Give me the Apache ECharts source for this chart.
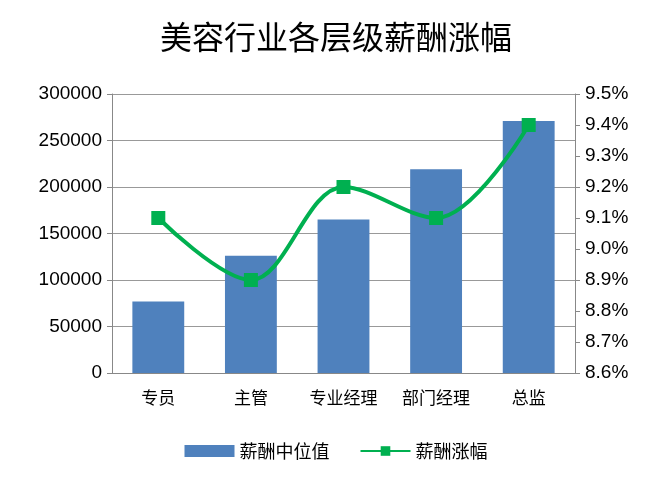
<!DOCTYPE html>
<html><head><meta charset="utf-8">
<script src="https://cdn.jsdelivr.net/npm/echarts@6/dist/echarts.min.js"></script>
<style>body{margin:0;background:#fff}#c{width:672px;height:497px}</style>
</head><body><div id="c"></div>
<script>
const categories = ['专员','主管','专业经理','部门经理','总监'];
const medianSalary = [77000,126000,165000,219000,271000];
const raiseRate = [9.1,8.9,9.2,9.1,9.4];
const chart = echarts.init(document.getElementById('c'));
const font = '"Noto Sans CJK SC", sans-serif';
const numFont = '"Liberation Sans", Arial, sans-serif';
chart.setOption({
  animation:false,
  textStyle:{fontFamily:font},
  title:{text:'美容行业各层级薪酬涨幅',left:'center',top:16,textStyle:{fontSize:32,fontWeight:'normal',color:'#000',fontFamily:font}},
  legend:{bottom:32,itemGap:30,textStyle:{fontSize:18,color:'#000'},
    data:[{name:'薪酬中位值',icon:'rect'},{name:'薪酬涨幅'}],itemWidth:50,itemHeight:12},
  grid:{left:112,right:97,top:94,bottom:124},
  xAxis:{type:'category',data:categories,axisTick:{show:false},
    axisLine:{lineStyle:{color:'#888'}},axisLabel:{interval:0,fontSize:17,color:'#000',margin:16}},
  yAxis:[
    {type:'value',min:0,max:300000,interval:50000,axisLine:{show:true,lineStyle:{color:'#888'}},
     axisTick:{show:true,length:5},axisLabel:{fontSize:19,color:'#000',margin:10,fontFamily:numFont,formatter:v=>String(v)},
     splitLine:{lineStyle:{color:'#999'}}},
    {type:'value',min:8.6,max:9.5,interval:0.1,axisLine:{show:true,lineStyle:{color:'#888'}},
     axisTick:{show:true,length:5},splitLine:{show:false},
     axisLabel:{fontSize:19,color:'#000',margin:10,fontFamily:numFont,formatter:v=>v.toFixed(1)+'%'}}
  ],
  series:[
    {name:'薪酬中位值',type:'bar',data:medianSalary,barWidth:'56%',itemStyle:{color:'#4F81BD'}},
    {name:'薪酬涨幅',type:'line',yAxisIndex:1,data:raiseRate,smooth:0.35,symbol:'rect',symbolSize:14,
     lineStyle:{color:'#00B050',width:4},itemStyle:{color:'#00B050'}}
  ]
});
</script></body></html>
